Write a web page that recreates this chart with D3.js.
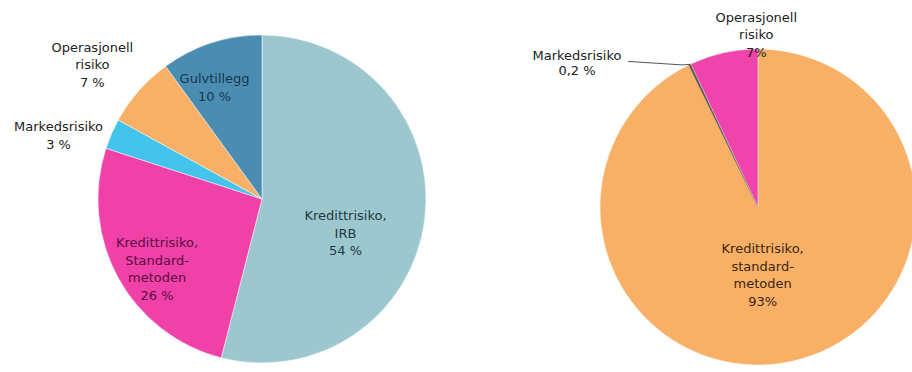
<!DOCTYPE html>
<html>
<head>
<meta charset="utf-8">
<script src="https://cdn.jsdelivr.net/npm/d3@7"></script>
<style>
  body { margin: 0; background: #fff; }
  svg text { font-family: "DejaVu Sans", Verdana, sans-serif; font-size: 13px; }
</style>
</head>
<body>
<svg id="chart" width="912" height="372"></svg>
<script>
// left pie: all banks (IRB)
const leftNames = [
  ["Kredittrisiko,", "IRB", "54 %"],
  ["Kredittrisiko,", "Standard-", "metoden", "26 %"],
  ["Markedsrisiko", "3 %"],
  ["Operasjonell", "risiko", "7 %"],
  ["Gulvtillegg", "10 %"]
];
const leftValues = [54, 26, 3, 7, 10];

// right pie: standard method banks
const rightNames = [
  ["Kredittrisiko,", "standard-", "metoden", "93%"],
  ["Markedsrisiko", "0,2 %"],
  ["Operasjonell", "risiko", "7%"]
];
const rightValues = [93, 0.2, 7];

const leftColors = ["#9dc7cf", "#f041a9", "#44c4ea", "#f8b067", "#4b8db1"];
const rightColors = ["#f8b066", "#555555", "#ee44ab"];
const leftText = ["#1d3942", "#5a0d3e", "#222", "#222", "#153652"];
const rightText = ["#3d2410", "#222", "#222"];

// label placement: radius ratio + angle nudge (deg)
const leftLab = [{k: 0.55, da: 15}, {k: 0.77, da: -5}, {k: 1.30, da: -6}, {k: 1.32, da: -3}, {k: 0.74, da: -5}];
const rightLab = [{k: 0.43, da: 9}, null, {k: 1.09, da: 12}];

const svg = d3.select('#chart');

function drawPie(cx, cy, r, names, values, colors, textCols, lab) {
  const g = svg.append('g').attr('transform', `translate(${cx},${cy})`);
  const pie = d3.pie().sort(null).value(d => d)(values);
  const arc = d3.arc().innerRadius(0).outerRadius(r);

  g.selectAll('path')
    .data(pie)
    .enter()
    .append('path')
    .attr('d', arc)
    .attr('fill', (d, i) => colors[i])
    .attr('stroke', (d, i) => values[i] < 1 ? colors[i] : '#fff')
    .attr('stroke-width', (d, i) => values[i] < 1 ? 1.2 : 0.6)
    .attr('stroke-opacity', 0.8);

  pie.forEach((d, i) => {
    if (!lab[i]) return;
    const a = (d.startAngle + d.endAngle) / 2 + lab[i].da * Math.PI / 180;
    const x = Math.sin(a) * r * lab[i].k;
    const y = -Math.cos(a) * r * lab[i].k;
    const lines = names[i];
    const t = g.append('text')
      .attr('text-anchor', 'middle')
      .attr('fill', textCols[i]);
    lines.forEach((s, j) => {
      t.append('tspan')
        .attr('x', x)
        .attr('y', y + (j - (lines.length - 1) / 2) * 17.5 + 4.5)
        .text(s);
    });
  });
  return {g, pie, r};
}

drawPie(262, 199, 164, leftNames, leftValues, leftColors, leftText, leftLab);
const right = drawPie(758, 207, 158, rightNames, rightValues, rightColors, rightText, rightLab);

// Markedsrisiko 0,2 % with leader line
const m = right.pie[1];
const ma = (m.startAngle + m.endAngle) / 2;
const px = Math.sin(ma) * right.r, py = -Math.cos(ma) * right.r;
const lx = px - 62, ly = py - 3;
right.g.append('path')
  .attr('d', d3.line()([[lx, ly], [px - 8, py + 0.5], [px, py]]))
  .attr('fill', 'none')
  .attr('stroke', '#555')
  .attr('stroke-width', 1);
const mt = right.g.append('text')
  .attr('text-anchor', 'middle')
  .attr('fill', rightText[1]);
rightNames[1].forEach((s, j) => {
  mt.append('tspan')
    .attr('x', lx - 51)
    .attr('y', ly + j * 15 - 1)
    .text(s);
});
</script>
</body>
</html>
